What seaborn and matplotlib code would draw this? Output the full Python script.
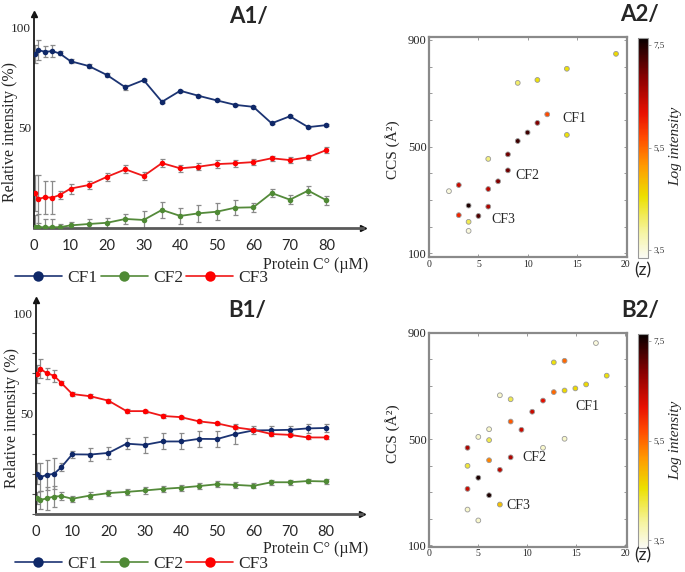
import matplotlib
matplotlib.use("Agg")
import pandas as pd
import matplotlib.pyplot as plt
import seaborn as sns
from matplotlib.colors import LinearSegmentedColormap, Normalize
from matplotlib.cm import ScalarMappable
from matplotlib.lines import Line2D
from matplotlib.ticker import MultipleLocator

# ---- line panels (A1 / B1) ----
conc = [0.4, 1, 3, 5, 7, 10, 15, 20, 25, 30, 35, 40, 45, 50, 55, 60, 65, 70, 75, 80]
x_ticks = [0, 10, 20, 30, 40, 50, 60, 70, 80]
y_ticks = [50, 100]
series_names = ["CF1", "CF2", "CF3"]

a1_cf1 = [86.6, 88.6, 87.7, 88.0, 86.9, 83.0, 80.6, 76.1, 70.0, 73.6, 62.8, 68.3, 65.8, 63.5, 61.3, 60.3, 52.1, 55.6, 50.2, 51.2]
a1_cf1_err = [4.6, 5.0, 2.7, 2.9, 1.0, 1.0, 1.0, 1.0, 1.2, 0.6, 0.6, 0.6, 0.5, 0.5, 0.5, 0.5, 0.5, 0.5, 0.5, 0.5]
a1_cf2 = [0.7, 0.6, 0.3, 0.4, 0.4, 1.3, 2.0, 2.6, 4.5, 4.0, 9.0, 6.0, 7.3, 8.1, 10.1, 10.3, 17.4, 14.1, 18.6, 13.8]
a1_cf2_err = [6.0, 6.5, 4.0, 4.0, 1.5, 1.8, 2.3, 2.5, 2.7, 4.4, 4.0, 4.1, 4.1, 4.1, 3.7, 2.3, 1.9, 2.2, 2.2, 2.2]
a1_cf3 = [17.6, 14.4, 15.3, 15.1, 16.4, 19.6, 21.4, 25.5, 29.2, 25.9, 32.3, 29.7, 30.5, 31.8, 32.2, 32.8, 34.7, 33.8, 35.2, 38.8]
a1_cf3_err = [9.0, 12.0, 8.3, 8.3, 2.2, 2.5, 2.0, 2.0, 2.0, 2.0, 2.0, 1.8, 1.8, 1.8, 1.7, 1.5, 1.3, 1.3, 1.3, 1.3]

b1_cf1 = [20.1, 18.2, 19.5, 20.0, 23.3, 29.7, 29.6, 30.4, 35.0, 34.4, 36.1, 36.1, 37.4, 37.3, 39.8, 41.6, 41.7, 41.9, 42.6, 42.8]
b1_cf1_err = [5.4, 7.0, 7.4, 7.8, 2.0, 1.8, 3.0, 3.0, 2.6, 4.0, 4.0, 4.0, 4.0, 4.0, 4.9, 2.0, 2.1, 2.1, 2.2, 2.2]
b1_cf2 = [8.1, 6.9, 7.8, 8.7, 8.9, 7.6, 9.2, 10.4, 11.0, 11.7, 12.5, 13.1, 13.9, 14.8, 14.5, 14.0, 15.8, 15.8, 16.4, 16.2]
b1_cf2_err = [3.0, 4.5, 5.6, 5.3, 2.0, 1.4, 1.6, 1.6, 1.6, 1.5, 1.5, 1.5, 1.5, 1.6, 1.4, 1.2, 1.2, 1.2, 1.2, 1.2]
b1_cf3 = [69.6, 72.4, 70.1, 68.8, 65.2, 59.7, 58.6, 56.4, 51.2, 51.2, 48.8, 48.2, 46.1, 45.1, 43.1, 41.9, 39.8, 39.4, 38.1, 38.1]
b1_cf3_err = [4.5, 4.7, 2.7, 2.9, 1.2, 1.0, 1.0, 1.0, 1.0, 0.8, 0.8, 0.8, 0.8, 0.8, 0.8, 0.8, 0.8, 0.8, 0.8, 0.8]

# ---- scatter panels (A2 / B2): charge state, CCS, log intensity ----
a2_z = [19, 14, 11, 9, 12, 11, 10, 14, 9, 8, 6, 8, 7, 3, 2, 6, 4, 6, 3, 5, 4, 4]
a2_ccs = [848, 792, 750, 739, 621, 589, 553, 544, 521, 471, 454, 411, 370, 356, 333, 341, 279, 275, 243, 240, 218, 184]
a2_logi = [4.6, 4.5, 4.5, 4.1, 5.7, 6.9, 7.3, 4.5, 7.3, 7.0, 4.0, 7.0, 6.9, 6.4, 3.5, 6.5, 7.5, 6.6, 6.0, 7.2, 4.2, 3.5]

b2_z = [17.0, 12.7, 13.8, 18.1, 16.0, 14.9, 13.8, 12.7, 7.2, 8.3, 11.6, 10.5, 8.3, 9.4, 6.1,
        5.0, 6.1, 13.8, 11.6, 3.9, 8.3, 6.1, 3.9, 7.2, 5.0, 3.9, 6.1, 7.2, 3.9, 5.0]
b2_ccs = [862, 789, 795, 739, 706, 691, 683, 677, 665, 650, 645, 603, 566, 535, 537,
          508, 496, 501, 467, 467, 431, 420, 399, 384, 354, 312, 288, 253, 234, 193]
b2_logi = [3.5, 4.5, 5.5, 4.5, 4.6, 4.6, 4.6, 5.5, 3.6, 4.2, 6.2, 6.4, 5.6, 6.4, 3.6,
           3.6, 4.2, 3.6, 3.6, 6.6, 6.6, 5.3, 4.3, 6.5, 7.5, 6.4, 7.5, 4.8, 3.6, 3.6]
cbar_ticks = [3.5, 5.5, 7.5]
cbar_labels = ["3,5", "5,5", "7,5"]
ccs_ticks = [100, 500, 900]
z_ticks = [0, 5, 10, 15, 20]

W, H = 685, 572
line_cols = {"CF1": "#1c3473", "CF2": "#548a3a", "CF3": "#f01818"}
mark_cols = {"CF1": "#0f2868", "CF2": "#4f8a35", "CF3": "#ff0000"}
cmap = LinearSegmentedColormap.from_list(
    "loginten",
    [(0.0, "#fbfbf6"), (0.12, "#f6f4a0"), (0.28, "#ece000"), (0.42, "#ff9a00"),
     (0.55, "#ff4a00"), (0.66, "#e81000"), (0.82, "#8a0000"), (1.0, "#080000")])
norm = Normalize(3.34, 7.63)


def box(l, t, r, b):
    return [l / W, 1 - b / H, (r - l) / W, (b - t) / H]


def ftext(px, py, s, **kw):
    fig.text(px / W, 1 - py / H, s, **kw)


sns.set_theme(style="white")
plt.rcParams["font.family"] = ["Liberation Serif", "DejaVu Serif"]

fig = plt.figure(figsize=(W / 100, H / 100), dpi=100)


def line_panel(ax, data, minor):
    for name, (vals, errs) in zip(series_names, data):
        ax.errorbar(conc, vals, yerr=errs, fmt="none", ecolor="#8a8a8a",
                    elinewidth=0.9, capsize=1.8, capthick=0.9, zorder=2)
        sns.lineplot(x=conc, y=vals, ax=ax, color=line_cols[name], marker="o",
                     markersize=4, markeredgewidth=0, markerfacecolor=mark_cols[name],
                     linewidth=1.3, zorder=3)
    ax.set_xlim(0, 90)
    ax.set_ylim(0, 106.5)
    for s in ["top", "right"]:
        ax.spines[s].set_visible(False)
    ax.spines["left"].set_color("#1a1a1a")
    ax.spines["left"].set_linewidth(1.3)
    ax.spines["bottom"].set_color("#5a5a5a")
    ax.spines["bottom"].set_linewidth(2)
    ax.plot(1, 0, ">", color="#111111", markersize=5,
            transform=ax.get_yaxis_transform(), clip_on=False)
    ax.plot(0, 1, "^", color="#111111", markersize=5,
            transform=ax.get_xaxis_transform(), clip_on=False)
    ax.set_xticks(x_ticks)
    ax.set_xticklabels([str(t) for t in x_ticks], fontfamily="Lato", fontsize=10.5)
    ax.set_yticks(y_ticks)
    ax.set_yticklabels([str(t) for t in y_ticks], fontsize=9.5)
    ax.tick_params(axis="x", length=0, pad=8)
    ax.tick_params(axis="y", which="major", length=0, pad=2)
    if minor:
        ax.yaxis.set_minor_locator(MultipleLocator(10))
        ax.tick_params(axis="y", which="minor", left=True, length=3,
                       width=0.8, color="#555555", direction="out")
    ax.set_xlabel("")
    ax.set_ylabel("")


def legend(py):
    handles = [Line2D([], [], color=line_cols[n], marker="o", markersize=7.5,
                      markerfacecolor=mark_cols[n], markeredgewidth=0, lw=1.2)
               for n in series_names]
    fig.legend(handles, series_names, loc="center left",
               bbox_to_anchor=(15 / W, 1 - py / H), ncol=3, frameon=False,
               handlelength=2.7, handletextpad=0.3, columnspacing=0.2,
               borderaxespad=0, borderpad=0, fontsize=12.5)


def scatter_panel(ax, cax, z, ccs, logi, ylim, xlim):
    df = pd.DataFrame({"z": z, "ccs": ccs, "logi": logi})
    sns.scatterplot(data=df, x="z", y="ccs", hue="logi", palette=cmap, hue_norm=norm,
                    s=12, edgecolor="#999999", linewidth=0.6, legend=False, ax=ax, zorder=3)
    ax.set_xlim(*xlim)
    ax.set_ylim(*ylim)
    ax.set_xticks(z_ticks)
    ax.set_yticks(ccs_ticks)
    ax.xaxis.set_minor_locator(MultipleLocator(5))
    ax.yaxis.set_minor_locator(MultipleLocator(100))
    ax.tick_params(which="both", direction="in", length=2.5, width=0.6, color="#888888",
                   top=True, right=True, bottom=True, left=True, pad=2)
    ax.tick_params(axis="x", labelsize=7)
    ax.tick_params(axis="y", labelsize=9)
    for s in ax.spines.values():
        s.set_color("#8a8a8a")
        s.set_linewidth(1.6)
    ax.set_xlabel("")
    ax.set_ylabel("")
    cb = fig.colorbar(ScalarMappable(norm=norm, cmap=cmap), cax=cax, ticks=cbar_ticks)
    cb.ax.set_yticklabels(cbar_labels)
    cb.outline.set_edgecolor("#999999")
    cb.outline.set_linewidth(0.8)
    cax.tick_params(length=2, width=0.5, color="#888888", labelsize=6.5, pad=2,
                    labelcolor="#333333")


# A1
ax_a1 = fig.add_axes(box(34, 14, 363, 228))
line_panel(ax_a1, [(a1_cf1, a1_cf1_err), (a1_cf2, a1_cf2_err), (a1_cf3, a1_cf3_err)], False)
ftext(10, 132, "Relative intensity (%)", rotation=90, ha="center", va="center", fontsize=11.5)
ftext(316, 265, "Protein C° (µM)", ha="center", va="center", fontsize=11.5)
legend(278)
ftext(248, 16, "A1/", family="Lato", weight="bold", fontsize=16, ha="center", va="center")

# B1
ax_b1 = fig.add_axes(box(36, 300, 362, 514))
line_panel(ax_b1, [(b1_cf1, b1_cf1_err), (b1_cf2, b1_cf2_err), (b1_cf3, b1_cf3_err)], True)
ftext(12, 418, "Relative intensity (%)", rotation=90, ha="center", va="center", fontsize=11.5)
ftext(316, 549, "Protein C° (µM)", ha="center", va="center", fontsize=11.5)
legend(564)
ftext(247, 310, "B1/", family="Lato", weight="bold", fontsize=16, ha="center", va="center")

# A2
ax_a2 = fig.add_axes(box(429.3, 37.3, 627.3, 257.3))
cax_a2 = fig.add_axes(box(637.7, 38.3, 648.3, 258.3))
scatter_panel(ax_a2, cax_a2, a2_z, a2_ccs, a2_logi, (85, 910), (0, 20.15))
ax_a2.text(14.8, 606, "CF1", fontsize=10, ha="center", va="center")
ax_a2.text(10.0, 391, "CF2", fontsize=10, ha="center", va="center")
ax_a2.text(7.5, 225, "CF3", fontsize=10, ha="center", va="center")
ftext(393, 150, "CCS (Å²)", rotation=90, ha="center", va="center", fontsize=11)
ftext(676, 146, "Log intensity", rotation=90, ha="center", va="center", fontsize=11, style="italic")
ftext(643, 270, "(z)", family="Lato", fontsize=12.5, ha="center", va="center")
ftext(640, 14, "A2/", family="Lato", weight="bold", fontsize=16, ha="center", va="center")

# B2
ax_b2 = fig.add_axes(box(429.3, 332.7, 627.3, 546.7))
cax_b2 = fig.add_axes(box(637.7, 334.3, 647.7, 548.3))
scatter_panel(ax_b2, cax_b2, b2_z, b2_ccs, b2_logi, (94, 901), (0.2, 20.2))
ax_b2.text(16.1, 623, "CF1", fontsize=10, ha="center", va="center")
ax_b2.text(10.7, 432, "CF2", fontsize=10, ha="center", va="center")
ax_b2.text(9.1, 248, "CF3", fontsize=10, ha="center", va="center")
ftext(393, 434, "CCS (Å²)", rotation=90, ha="center", va="center", fontsize=11)
ftext(676, 440, "Log intensity", rotation=90, ha="center", va="center", fontsize=11, style="italic")
ftext(643, 555, "(z)", family="Lato", fontsize=12.5, ha="center", va="center")
ftext(640, 310, "B2/", family="Lato", weight="bold", fontsize=16, ha="center", va="center")

fig.savefig("out.png", dpi=100, facecolor="white")
